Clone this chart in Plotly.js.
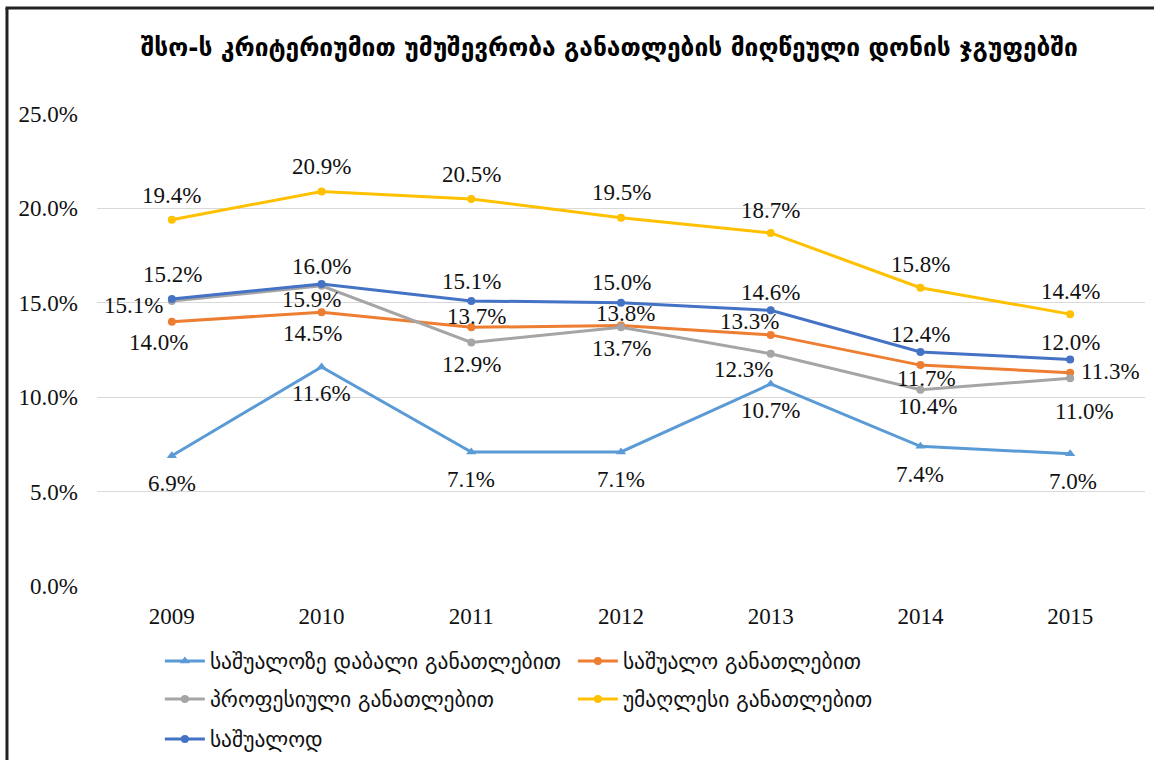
<!DOCTYPE html>
<html>
<head>
<meta charset="utf-8">
<script src="https://cdn.plot.ly/plotly-3.0.1.min.js"></script>
<style>html,body{margin:0;padding:0;background:#fff;}#chart{width:1154px;height:760px;}</style>
</head>
<body>
<div id="chart"></div>
<script>
const years = ['2009', '2010', '2011', '2012', '2013', '2014', '2015'];
const seriesNames = [
  'საშუალოზე დაბალი განათლებით',
  'საშუალო განათლებით',
  'პროფესიული განათლებით',
  'უმაღლესი განათლებით',
  'საშუალოდ'
];
const belowSecondary = [6.9, 11.6, 7.1, 7.1, 10.7, 7.4, 7.0];
const secondary = [14.0, 14.5, 13.7, 13.8, 13.3, 11.7, 11.3];
const vocational = [15.1, 15.9, 12.9, 13.7, 12.3, 10.4, 11.0];
const higher = [19.4, 20.9, 20.5, 19.5, 18.7, 15.8, 14.4];
const average = [15.2, 16.0, 15.1, 15.0, 14.6, 12.4, 12.0];
const yTickVals = [0, 5, 10, 15, 20, 25];

const colors = ['#5B9BD5', '#ED7D31', '#A5A5A5', '#FFC000', '#4472C4'];
const symbols = ['triangle-up', 'circle', 'circle', 'circle', 'circle'];
const values = [belowSecondary, secondary, vocational, higher, average];
const legendIds = ['legend', 'legend', 'legend2', 'legend2', 'legend3'];

// label offsets in pixels [dx, dy] (dy positive = downward on screen)
const labelOffsets = [
  [[0, 28], [0, 27], [0, 28], [0, 28], [0, 27], [0, 28], [3, 28]],
  [[-13, 21], [-9, 21], [5, -11], [4, -12], [-21, -13], [6, 13], [40, -1]],
  [[-38, 5], [-10, 14], [0, 22], [0, 21], [-27, 16], [7, 17], [14, 33]],
  [[0, -24], [0, -25], [0, -24], [0, -25], [0, -22], [0, -23], [0, -23]],
  [[1, -25], [0, -17], [0, -19], [0, -20], [0, -18], [0, -17], [0, -17]]
];

const serif = 'Liberation Serif';
const labelFont = {family: serif, size: 23, color: '#111111'};

const traces = values.map((v, i) => ({
  type: 'scatter',
  mode: 'lines+markers',
  x: years,
  y: v,
  name: seriesNames[i],
  legend: legendIds[i],
  line: {color: colors[i], width: 3},
  marker: {color: colors[i], symbol: symbols[i], size: i === 0 ? 9 : 8}
}));

const annotations = [];
values.forEach((v, i) => {
  v.forEach((val, j) => {
    annotations.push({
      x: j, y: val, xref: 'x', yref: 'y',
      text: val.toFixed(1) + '%',
      showarrow: false,
      xshift: labelOffsets[i][j][0],
      yshift: -labelOffsets[i][j][1],
      font: labelFont
    });
  });
});

const legendBase = {
  orientation: 'h',
  x: 0.06, xanchor: 'left', xref: 'paper',
  yanchor: 'middle', yref: 'container',
  entrywidth: 358, entrywidthmode: 'pixels',
  traceorder: 'normal',
  font: {family: 'DejaVu Sans', size: 21.5, color: '#111111'},
  itemwidth: 40,
  bgcolor: 'rgba(0,0,0,0)'
};

const layout = {
  width: 1154, height: 760,
  paper_bgcolor: '#ffffff', plot_bgcolor: '#ffffff',
  margin: {l: 97, r: 9, t: 114, b: 174},
  title: {
    text: 'შსო-ს კრიტერიუმით უმუშევრობა განათლების მიღწეული დონის ჯგუფებში',
    font: {family: 'DejaVu Sans', size: 24.5, color: '#000000', weight: 'bold'},
    x: 0.528, xanchor: 'center', y: 0.937, yanchor: 'middle', xref: 'container', yref: 'container'
  },
  xaxis: {
    type: 'category',
    range: [-0.5, 6.5],
    showgrid: false, zeroline: false, showline: false, ticks: '',
    ticklabelstandoff: 14,
    tickfont: {family: serif, size: 23, color: '#111111'}
  },
  yaxis: {
    range: [0, 25],
    tickvals: yTickVals,
    ticktext: yTickVals.map(t => t.toFixed(1) + '%'),
    showgrid: true, gridcolor: '#d9d9d9', gridwidth: 1,
    zeroline: false, showline: false, ticks: '',
    ticklabelstandoff: 18,
    tickfont: {family: serif, size: 23, color: '#111111'}
  },
  showlegend: true,
  legend: Object.assign({}, legendBase, {y: 1 - 661 / 760}),
  legend2: Object.assign({}, legendBase, {y: 1 - 699 / 760}),
  legend3: Object.assign({}, legendBase, {y: 1 - 739 / 760}),
  annotations: annotations,
  shapes: [
    {type: 'line', xref: 'paper', yref: 'paper', x0: -0.0859, x1: -0.0859, y0: 1.2246, y1: -0.40, line: {color: '#222222', width: 3}},
    {type: 'line', xref: 'paper', yref: 'paper', x0: -0.0873, x1: 1.01, y0: 1.2246, y1: 1.2246, line: {color: '#222222', width: 3}}
  ]
};

Plotly.newPlot('chart', traces, layout, {displayModeBar: false});
</script>
</body>
</html>
